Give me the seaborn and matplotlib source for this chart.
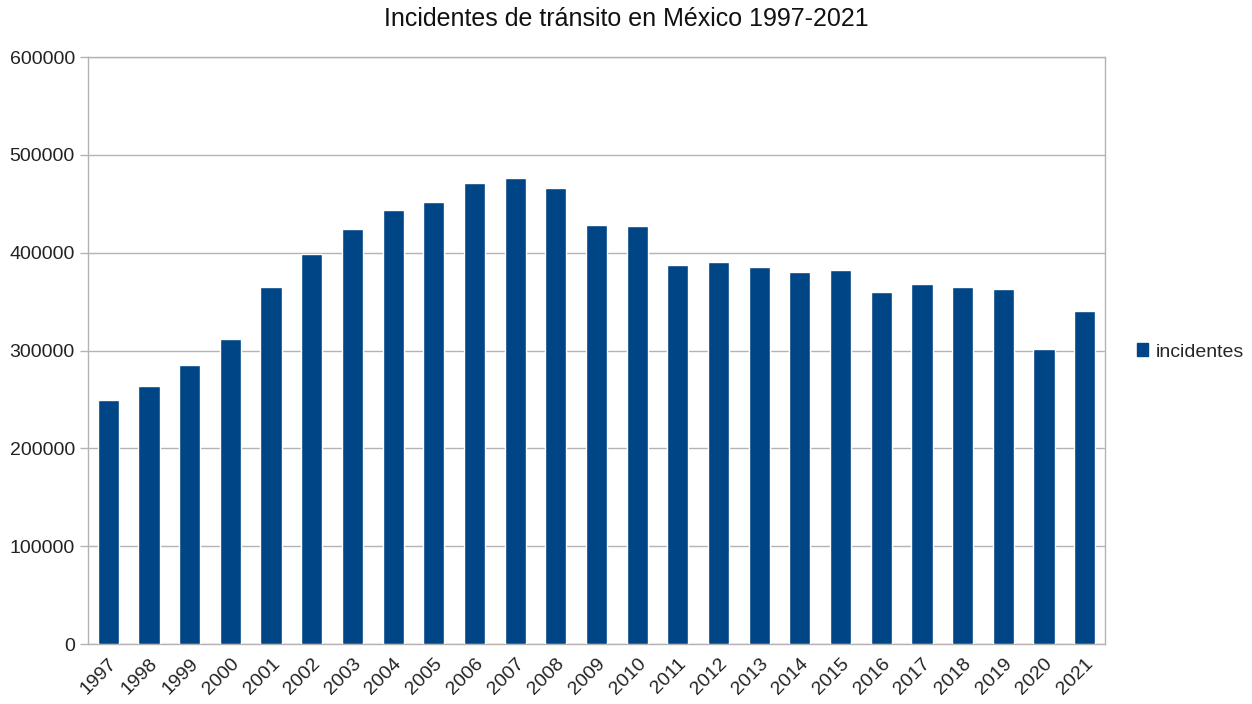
import pandas as pd
import numpy as np
import matplotlib
matplotlib.use('Agg')
import matplotlib.pyplot as plt
import seaborn as sns
from matplotlib.patches import Patch

# Data
years = ['1997', '1998', '1999', '2000', '2001', '2002', '2003', '2004', '2005',
         '2006', '2007', '2008', '2009', '2010', '2011', '2012', '2013', '2014',
         '2015', '2016', '2017', '2018', '2019', '2020', '2021']
incidentes = [249000, 263300, 285700, 312200, 365000, 399000, 424200, 443600, 451700,
              471100, 475900, 466000, 428000, 427200, 387400, 390500, 385700, 380600,
              382300, 360200, 368100, 365300, 363000, 301700, 340500]
y_ticks = [0, 100000, 200000, 300000, 400000, 500000, 600000]

df = pd.DataFrame({'anio': years, 'incidentes': incidentes})

sns.set_style('white')
plt.rcParams['font.family'] = ['Liberation Sans', 'DejaVu Sans']

bar_color = '#004586'
grid_color = '#b3b3b3'

fig = plt.figure(figsize=(12.52, 7.04), dpi=100)
ax = fig.add_axes([0.0703, 0.0852, 0.8123, 0.8338])

sns.barplot(data=df, x='anio', y='incidentes', color=bar_color, width=0.52,
            saturation=1, ax=ax, zorder=3)

ax.set_xlim(-0.5, len(years) - 0.5)
ax.set_ylim(0, 600000)
ax.set_yticks(y_ticks)
ax.set_yticklabels([str(v) for v in y_ticks], fontsize=14, color='#222222')
ax.yaxis.grid(True, color=grid_color, linewidth=1, zorder=0)

# labels centred under bars, tick marks on category boundaries
ax.set_xticks(range(len(years)))
ax.set_xticklabels(years, rotation=45, ha='right', rotation_mode='anchor',
                   fontsize=14, color='#222222')
ax.tick_params(axis='x', which='major', length=0, pad=8)
ax.set_xticks(np.arange(-0.5, len(years), 1), minor=True)
ax.tick_params(axis='x', which='minor', length=6, color=grid_color, width=1)
ax.tick_params(axis='y', which='major', length=6, color=grid_color, width=1, left=True)

for s in ax.spines.values():
    s.set_color(grid_color)
    s.set_linewidth(1)

ax.set_xlabel('')
ax.set_ylabel('')

fig.suptitle('Incidentes de tránsito en México 1997-2021', fontsize=18,
             y=0.99, color='#111111')

handle = Patch(facecolor=bar_color, edgecolor=bar_color)
fig.legend([handle], ['incidentes'], loc='center left', bbox_to_anchor=(0.894, 0.5),
           frameon=False, fontsize=14, handlelength=0.6, handleheight=0.6,
           handletextpad=0.4)

fig.savefig('out.png', dpi=100)
